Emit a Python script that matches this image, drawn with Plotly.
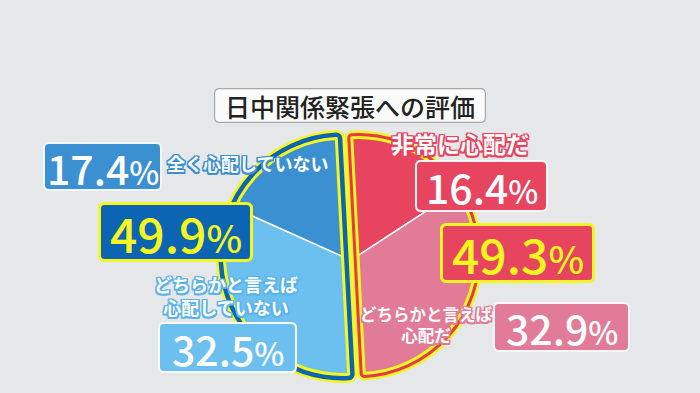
import plotly.graph_objects as go

# ---------------- data ----------------
title_text = "日中関係緊張への評価"
right_labels = ["非常に心配だ", "どちらかと言えば<br>心配だ"]
right_values = [16.4, 32.9]
right_total = 49.3
left_labels = ["全く心配していない", "どちらかと言えば<br>心配していない"]
left_values = [17.4, 32.5]
left_total = 49.9

# ---------------- style ----------------
W, H = 700, 393
BG = "#e6e7e9"
YELLOW = "#f5f51f"
DARKPINK = "#e6445f"
LIGHTPINK = "#e27b98"
REDBAND = "#e2394f"
BLUE = "#3b90d2"
LIGHTBLUE = "#6cc0f0"
DKBLUE = "#0b65b2"
CLEAR = "rgba(0,0,0,0)"
FONT = "Noto Sans CJK JP"

ROT = -3
RS = 118
DIV_X, DIV_Y = 351, 256


def dom(cx, cy, r):
    return dict(x=[(cx - r) / W, (cx + r) / W], y=[(H - cy - r) / H, (H - cy + r) / H])


# right half geometry
R_in, R_band, R_out = 1.5, 3.0, 2.5
r_ext = R_in + R_band + R_out
# left half geometry
L_in, L_band, L_out = 1.5, 4.5, 2.5
l_ext = L_in + L_band + L_out

rdom = dom(DIV_X + r_ext, DIV_Y - 0.4, RS)
ldom = dom(DIV_X - l_ext, DIV_Y + 0.4, RS)

fig = go.Figure()


def half(domain, visible_first, color, width, total):
    vals = [total, total]
    lw = [width, 0] if visible_first else [0, width]
    return go.Pie(values=vals, domain=domain, sort=False, direction="clockwise",
                  rotation=ROT, textinfo="none", hoverinfo="skip", showlegend=False,
                  marker=dict(colors=[CLEAR, CLEAR], line=dict(color=color, width=lw)))


# outer yellow borders
fig.add_trace(half(ldom, False, YELLOW, 2 * l_ext, left_total))
fig.add_trace(half(rdom, True, YELLOW, 2 * r_ext, right_total))
# coloured bands
fig.add_trace(half(ldom, False, DKBLUE, 2 * (L_in + L_band), left_total))
fig.add_trace(half(rdom, True, REDBAND, 2 * (R_in + R_band), right_total))

# data slices
fig.add_trace(go.Pie(values=right_values + [right_total], domain=rdom, sort=False,
                     direction="clockwise", rotation=ROT, textinfo="none",
                     hoverinfo="skip", showlegend=False,
                     marker=dict(colors=[DARKPINK, LIGHTPINK, CLEAR],
                                 line=dict(color=["white", "white", CLEAR], width=[1.5, 1.5, 0]))))
fig.add_trace(go.Pie(values=[left_total] + left_values[::-1], domain=ldom, sort=False,
                     direction="clockwise", rotation=ROT, textinfo="none",
                     hoverinfo="skip", showlegend=False,
                     marker=dict(colors=[CLEAR, LIGHTBLUE, BLUE],
                                 line=dict(color=[CLEAR, "white", "white"], width=[0, 1.5, 1.5]))))

# inner thin yellow
fig.add_trace(half(ldom, False, YELLOW, 2 * L_in, left_total))
fig.add_trace(half(rdom, True, YELLOW, 2 * R_in, right_total))


def px(x):
    return x / W


def py(y):
    return 1 - y / H


def pct(v, small):
    return f"{v:.1f}<span style='font-size:{small}px'>%</span>"


def rounded(x0, y0, x1, y1, r):
    X = lambda v: f"{px(v):.5f}"
    Y = lambda v: f"{py(v):.5f}"
    return (f"M {X(x0 + r)},{Y(y0)} L {X(x1 - r)},{Y(y0)} Q {X(x1)},{Y(y0)} {X(x1)},{Y(y0 + r)} "
            f"L {X(x1)},{Y(y1 - r)} Q {X(x1)},{Y(y1)} {X(x1 - r)},{Y(y1)} "
            f"L {X(x0 + r)},{Y(y1)} Q {X(x0)},{Y(y1)} {X(x0)},{Y(y1 - r)} "
            f"L {X(x0)},{Y(y0 + r)} Q {X(x0)},{Y(y0)} {X(x0 + r)},{Y(y0)} Z")


def box(cx, cy, w, h, text, bg, border, bw, color, size, weight=500, dy=0):
    x0, x1 = cx - w / 2 + bw / 2, cx + w / 2 - bw / 2
    y0, y1 = cy - h / 2 + bw / 2, cy + h / 2 - bw / 2
    fig.add_shape(type="path", xref="paper", yref="paper", path=rounded(x0, y0, x1, y1, 5),
                  fillcolor=bg, line=dict(color=border, width=bw), layer="above")
    fig.add_annotation(x=px(cx), y=py(cy + dy), xref="paper", yref="paper", showarrow=False,
                       text=text, xanchor="center", yanchor="middle", align="center",
                       font=dict(family=FONT, size=size, color=color, weight=weight))


def outline(c, w=1.5):
    parts = []
    for dx in (-w, 0, w):
        for dy in (-w, 0, w):
            if dx or dy:
                parts.append(f"{dx}px {dy}px 0 {c}")
    return ", ".join(parts)


def label(cx, cy, text, size, oc):
    fig.add_annotation(x=px(cx), y=py(cy), xref="paper", yref="paper", showarrow=False,
                       text=text, xanchor="center", yanchor="middle", align="center",
                       font=dict(family=FONT, size=size, color="white", weight=700,
                                 shadow=outline(oc)))


# title
box(350, 105.5, 272, 35, title_text, "#fbfbfb", "#a8a8a8", 1.2, "#222222", 25, 500)

# left side
box(102.5, 166.5, 119, 49, pct(left_values[0], 32), BLUE, "#f2f6fa", 2, "white", 41)
label(248, 163, left_labels[0], 18, BLUE)
box(175.5, 232, 155, 60, pct(left_total, 38), DKBLUE, YELLOW, 3, YELLOW, 48)
label(226, 295, left_labels[1], 18, "#5ab3e8")
box(227.5, 347.5, 139, 51, pct(left_values[1], 32), LIGHTBLUE, "#f7fbff", 2, "white", 41)

# right side
label(460, 143, right_labels[0], 23, DARKPINK)
box(481.5, 186, 133, 52, pct(right_values[0], 32), DARKPINK, "#fdf4f5", 2, "white", 41)
box(517.5, 253, 155, 60, pct(right_total, 38), DARKPINK, YELLOW, 3, YELLOW, 48)
label(426, 324, right_labels[1], 16.5, LIGHTPINK)
box(561.5, 327, 137, 50, pct(right_values[1], 32), LIGHTPINK, "#fdf6f8", 2, "white", 41)

fig.update_layout(width=W, height=H, margin=dict(l=0, r=0, t=0, b=0),
                  paper_bgcolor=BG, plot_bgcolor=BG)

fig.write_html("out.html", config={"displayModeBar": False},
               post_script="document.body.style.margin='0';document.body.style.background='" + BG + "';")
